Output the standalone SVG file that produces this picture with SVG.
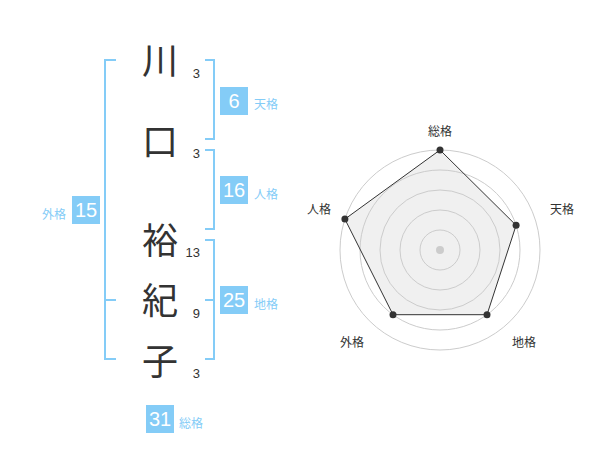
<svg xmlns="http://www.w3.org/2000/svg" width="600" height="470" viewBox="0 0 600 470">
<style>
.k{font-family:"Noto Sans CJK JP","Noto Sans CJK SC",sans-serif;font-size:36px;fill:#333;text-anchor:middle}
.d{font-family:"Liberation Sans",Arial,sans-serif;font-size:13px;fill:#333;text-anchor:end}
.bx{fill:#84ccf7}
.bn{font-family:"Liberation Sans",Arial,sans-serif;font-size:20px;fill:#fff;text-anchor:middle}
.bl{font-family:"Noto Sans CJK JP",sans-serif;font-size:12px;fill:#84ccf7}
.br{fill:none;stroke:#84ccf7;stroke-width:2}
.ring{fill:none;stroke:#cccccc;stroke-width:1}
.rl{font-family:"Noto Sans CJK JP",sans-serif;font-size:12px;fill:#333;text-anchor:middle}
.pt{fill:#333}
</style>
<rect width="600" height="470" fill="#fff"/>
<g id="name">
<g id="c1"><text class="k" x="160" y="74">川</text><text class="d" x="200" y="78">3</text></g>
<g id="c2"><text class="k" x="160" y="155">口</text><text class="d" x="200" y="158">3</text></g>
<g id="c3"><text class="k" x="160" y="254">裕</text><text class="d" x="200" y="257">13</text></g>
<g id="c4"><text class="k" x="160" y="314">紀</text><text class="d" x="200" y="318">9</text></g>
<g id="c5"><text class="k" x="160" y="375">子</text><text class="d" x="200" y="378">3</text></g>
</g>
<g id="connectors">
<path class="br" d="M116,60 H105 V359 H116 M105,300 H116"/>
<path class="br" d="M205,60 H214 V139 H205"/>
<path class="br" d="M205,150 H214 V229 H205"/>
<path class="br" d="M205,240 H214 V359 H205 M205,300 H214"/>
</g>
<g id="tenkaku"><rect class="bx" x="220" y="87" width="28" height="28"/><text class="bn" x="234" y="108">6</text><text class="bl" x="254" y="109">天格</text></g>
<g id="jinkaku"><rect class="bx" x="220" y="176" width="28" height="28"/><text class="bn" x="234" y="197">16</text><text class="bl" x="254" y="199">人格</text></g>
<g id="chikaku"><rect class="bx" x="220" y="286" width="28" height="28"/><text class="bn" x="234" y="307">25</text><text class="bl" x="254" y="309">地格</text></g>
<g id="gaikaku"><rect class="bx" x="72" y="196" width="28" height="28"/><text class="bn" x="86" y="217">15</text><text class="bl" x="66" y="219" text-anchor="end">外格</text></g>
<g id="soukaku"><rect class="bx" x="146" y="405" width="28" height="28"/><text class="bn" x="160" y="426">31</text><text class="bl" x="179" y="428">総格</text></g>
<g id="radar">
<polygon points="440,150 516.1,225.3 487,314.7 393,314.7 344.9,219.1" fill="#f0f0f0" stroke="none"/>
<circle class="ring" cx="440" cy="250" r="20"/>
<circle class="ring" cx="440" cy="250" r="40"/>
<circle class="ring" cx="440" cy="250" r="60"/>
<circle class="ring" cx="440" cy="250" r="80"/>
<circle class="ring" cx="440" cy="250" r="100"/>
<circle cx="440" cy="250" r="4" fill="#cccccc"/>
<polygon points="440,150 516.1,225.3 487,314.7 393,314.7 344.9,219.1" fill="none" stroke="#333" stroke-width="1"/>
<circle class="pt" cx="440" cy="150" r="3.5"/>
<circle class="pt" cx="516.1" cy="225.3" r="3.5"/>
<circle class="pt" cx="487" cy="314.7" r="3.5"/>
<circle class="pt" cx="393" cy="314.7" r="3.5"/>
<circle class="pt" cx="344.9" cy="219.1" r="3.5"/>
<text class="rl" x="440" y="136">総格</text>
<text class="rl" x="562" y="214">天格</text>
<text class="rl" x="524" y="347">地格</text>
<text class="rl" x="352" y="347">外格</text>
<text class="rl" x="319" y="214">人格</text>
</g>
</svg>
